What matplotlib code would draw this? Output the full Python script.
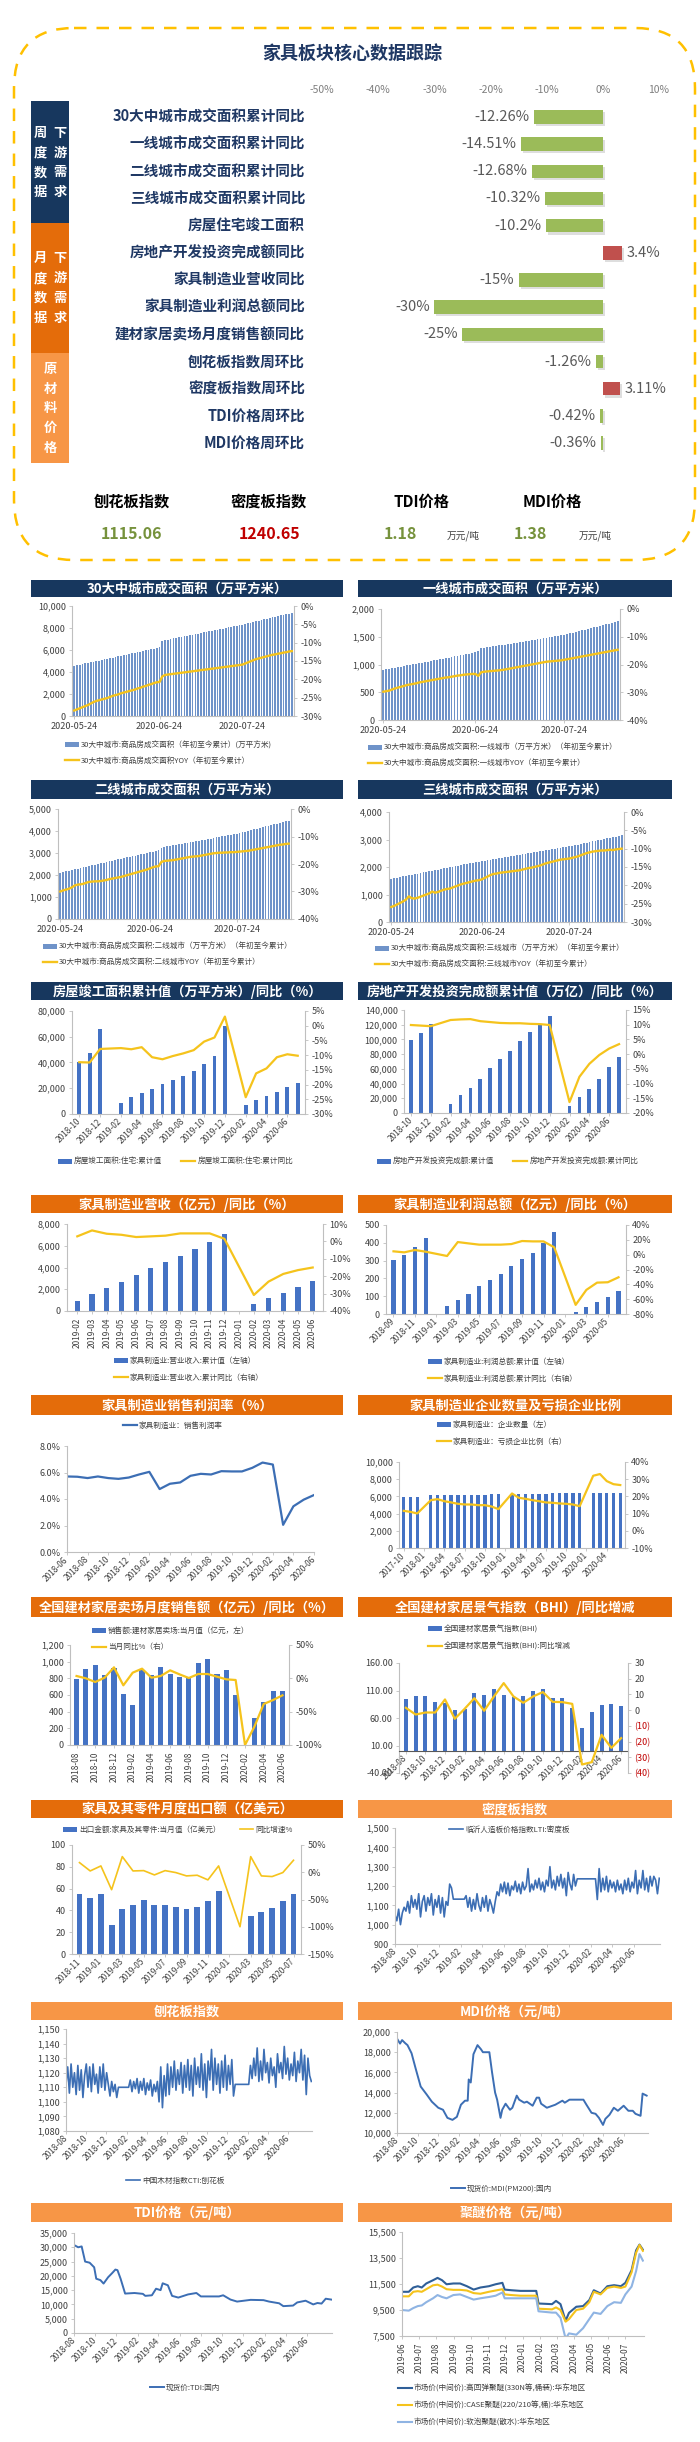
import matplotlib

matplotlib.use("Agg")
import matplotlib.pyplot as plt
from matplotlib.patches import Rectangle, FancyBboxPatch
from matplotlib.ticker import FuncFormatter
import numpy as np
import pandas as pd

plt.rcParams["font.family"] = ["Noto Sans CJK SC", "DejaVu Sans"]
plt.rcParams["axes.unicode_minus"] = False

nan = np.nan

# ---------------- 核心数据跟踪 ----------------
core_items = ["30大中城市成交面积累计同比", "一线城市成交面积累计同比", "二线城市成交面积累计同比",
              "三线城市成交面积累计同比", "房屋住宅竣工面积", "房地产开发投资完成额同比",
              "家具制造业营收同比", "家具制造业利润总额同比", "建材家居卖场月度销售额同比",
              "刨花板指数周环比", "密度板指数周环比", "TDI价格周环比", "MDI价格周环比"]
core_values = [-12.26, -14.51, -12.68, -10.32, -10.2, 3.4, -15, -30, -25, -1.26, 3.11, -0.42, -0.36]
core_ticks = [-50, -40, -30, -20, -10, 0, 10]
summary_names = ["刨花板指数", "密度板指数", "TDI价格", "MDI价格"]
summary_values = ["1115.06", "1240.65", "1.18", "1.38"]

# ---------------- 30城成交（日度累计） ----------------
day_start = "2020-05-24"
day_ticks = ["2020-05-24", "2020-06-24", "2020-07-24"]
city30_area = [4550, 4600, 4660, 4720, 4780, 4830, 4880, 4930, 4990, 5040, 5100, 5150, 5210, 5260, 5310, 5360,
               5420, 5470, 5520, 5580, 5630, 5690, 5740, 5800, 5850, 5900, 5960, 6010, 6070, 6130, 6190, 6250,
               6850, 6900, 6950, 7000, 7050, 7100, 7150, 7200, 7250, 7300, 7350, 7400, 7450, 7500, 7550, 7600,
               7650, 7700, 7750, 7800, 7850, 7900, 7950, 8000, 8050, 8100, 8150, 8200, 8250, 8300,
               8360, 8420, 8480, 8540, 8600, 8660, 8720, 8780, 8840, 8900, 8960, 9020, 9080, 9140, 9200, 9260,
               9310, 9360]
city30_yoy = [-28.5, -28.2, -27.9, -27.6, -27.3, -27.0, -26.6, -26.2, -25.9, -25.7, -25.5, -25.3, -25.1, -24.8,
              -24.5, -24.3, -24.1, -23.8, -23.6, -23.4, -23.2, -23.0, -22.8, -22.5, -22.3, -22.0, -21.8, -21.5,
              -21.3, -21.0, -20.8, -20.7, -19.2,
              -18.8, -18.7, -18.6, -18.5, -18.4, -18.3, -18.2, -18.1, -18.0, -17.9, -17.8, -17.7, -17.6, -17.5,
              -17.4, -17.3, -17.2, -17.1, -17.0, -16.9, -16.8, -16.7, -16.6, -16.5, -16.4, -16.3, -16.2, -16.1,
              -16.0, -15.7, -15.4, -15.1, -14.8, -14.5, -14.3, -14.1, -13.9, -13.7, -13.5, -13.3, -13.2, -13.0,
              -12.9, -12.7, -12.6, -12.4, -12.3]
city1_area = [900, 910, 920, 930, 941, 951, 961, 971, 982, 992, 1002, 1012, 1023, 1033, 1043, 1053, 1064, 1074,
              1084, 1094, 1105, 1115, 1125, 1135, 1146, 1156, 1166, 1176, 1187, 1197, 1207, 1217, 1240,
              1290, 1299, 1308, 1316, 1325, 1334, 1343, 1352, 1360, 1369, 1378, 1387, 1396, 1404, 1413, 1422,
              1431, 1440, 1448, 1457, 1466, 1475, 1484, 1492, 1501, 1510, 1519, 1528, 1536,
              1549, 1563, 1576, 1590, 1603, 1617, 1630, 1643, 1657, 1670, 1684, 1697, 1710, 1724, 1737, 1750,
              1764, 1777]
city1_yoy = [-29.8, -29.6, -29.4, -29.0, -28.6, -28.3, -28.0, -27.7, -27.4, -27.2, -27.0, -26.8, -26.5, -26.3,
             -26.1, -25.9, -25.7, -25.5, -25.3, -25.1, -24.9, -24.7, -24.6, -24.4, -24.2, -24.0, -23.9, -23.7,
             -23.6, -23.5, -23.4, -23.4, -24.1,
             -22.8, -22.6, -22.5, -22.4, -22.3, -22.2, -22.1, -22.0, -21.8, -21.6, -21.4, -21.2, -21.0, -20.8,
             -20.6, -20.4, -20.2, -20.0, -19.8, -19.6, -19.4, -19.2, -19.0, -18.9, -18.8, -18.7, -18.6, -18.5,
             -18.3, -18.1, -17.9, -17.7, -17.5, -17.3, -17.1, -16.9, -16.7, -16.5, -16.3, -16.1, -15.9, -15.7,
             -15.5, -15.3, -15.1, -14.9, -14.7]
city2_area = [2106, 2136, 2166, 2196, 2226, 2256, 2286, 2316, 2346, 2376, 2406, 2436, 2466, 2496, 2526, 2556,
              2586, 2616, 2646, 2676, 2706, 2736, 2766, 2796, 2826, 2856, 2886, 2916, 2946, 2976, 3006, 3036,
              3066, 3096, 3126,
              3250, 3274, 3298, 3322, 3346, 3370, 3394, 3418, 3442, 3466, 3490, 3514, 3538, 3562, 3586, 3610,
              3634, 3658, 3682, 3706, 3730, 3754, 3778, 3802, 3826, 3850, 3878,
              3910, 3943, 3976, 4009, 4042, 4075, 4108, 4141, 4174, 4207, 4240, 4273, 4306, 4339, 4372, 4405,
              4438, 4470]
city2_yoy = [-30.0, -29.6, -29.3, -29.0, -28.5, -27.8, -27.5, -27.4, -27.2, -26.8, -26.5, -26.4, -26.3, -26.3,
             -26.2, -26.0, -25.8, -25.5, -25.3, -25.1, -24.9, -24.7, -24.4, -24.1, -23.8, -23.5, -23.2, -22.9,
             -22.6, -22.3, -22.0, -21.6, -21.2, -20.9, -20.8,
             -19.2, -18.9, -18.8, -18.7, -18.6, -18.4, -18.2, -18.0, -17.8, -17.6, -17.4, -17.3, -17.2, -17.1,
             -16.9, -16.7, -16.5, -16.3, -16.1, -16.0, -15.9, -15.9, -15.8, -15.8, -15.7, -15.7, -15.6,
             -15.5, -15.4, -15.3, -15.2, -15.0, -14.8, -14.6, -14.4, -14.2, -14.0, -13.8, -13.6, -13.4, -13.2,
             -13.0, -12.9, -12.7, -12.6]
city3_area = [1576, 1596, 1617, 1638, 1658, 1679, 1700, 1720, 1741, 1762, 1782, 1803, 1824, 1844, 1865, 1886,
              1906, 1927, 1948, 1968, 1989, 2010, 2030, 2051, 2072, 2092, 2113, 2134, 2155, 2176, 2197, 2218,
              2236, 2254, 2272, 2290, 2308, 2326, 2344, 2362, 2380, 2398, 2416, 2434, 2452, 2470, 2488, 2506,
              2524, 2542, 2560, 2578, 2596, 2614, 2632, 2650, 2668, 2686, 2704, 2722, 2740, 2752,
              2774, 2796, 2818, 2840, 2862, 2884, 2906, 2928, 2950, 2972, 2994, 3016, 3038, 3060, 3082, 3104,
              3128, 3152]
city3_yoy = [-25.9, -25.6, -25.2, -24.8, -24.4, -23.9, -23.0, -23.5, -23.6, -23.4, -23.1, -22.8, -22.5, -22.2,
             -21.7, -22.0, -21.8, -21.5, -21.2, -21.0, -20.9, -20.6, -20.3, -20.0, -19.7, -19.5, -19.3, -19.1,
             -18.9, -18.7, -18.6, -18.4, -18.0, -17.6, -17.2, -16.9, -16.8, -16.6, -16.5, -16.4, -16.3, -16.2,
             -16.1, -16.0, -15.9, -15.7, -15.5, -15.3, -15.2, -15.0, -14.8, -14.6, -14.3, -14.0, -13.8, -13.6,
             -13.4, -13.2, -13.0, -12.9, -12.8, -12.7, -12.5, -12.3, -12.1, -11.8, -11.5, -11.2, -11.0, -10.8,
             -10.7, -10.6, -10.5, -10.5, -10.4, -10.3, -10.4, -10.2, -10.1, -10.0]

# ---------------- 月度数据 ----------------
comp_months = pd.period_range("2018-10", "2020-07", freq="M").strftime("%Y-%m").tolist()
comp_area = [40600, 47300, 66000, nan, 8800, 13200, 16000, 19100, 23000, 26400, 29500, 33400, 38600, 45300,
             68400, nan, 6700, 11100, 14000, 16800, 20700, 23800]
comp_yoy = [-12.4, -12.5, -7.9, nan, -7.6, -8.0, -7.3, -10.7, -11.4, -10.3, -9.4, -8.3, -5.4, -4.0, 3.1, nan,
            -24.3, -16.2, -14.5, -10.7, -9.7, -10.2]
inv_val = [99300, 109000, 120300, nan, 12800, 23800, 34200, 46100, 61600, 73100, 84600, 98000, 109600, 121300,
           132200, nan, 10100, 21960, 33100, 45900, 62700, 75900]
inv_yoy = [9.9, 9.7, 9.5, nan, 11.6, 11.8, 11.9, 11.2, 10.9, 10.6, 10.5, 10.5, 10.3, 10.2, 9.9, nan,
           -16.3, -7.7, -3.3, -0.3, 1.9, 3.4]

rev_months = pd.period_range("2019-02", "2020-06", freq="M").strftime("%Y-%m").tolist()
rev_val = [950, 1570, 2090, 2680, 3290, 3910, 4460, 5080, 5690, 6340, 7110, nan, 620, 1170, 1660, 2180, 2770]
rev_yoy = [2.9, 6.3, 4.4, 3.8, 2.5, 2.9, 3.3, 4.6, 4.6, 4.6, 1.5, nan, -30.8, -23.1, -18.7, -16.5, -15.0]

prof_months = pd.period_range("2018-09", "2020-06", freq="M").strftime("%Y-%m").tolist()
prof_val = [304, 332, 375, 425, nan, 47, 80, 112, 158, 192, 226, 270, 308, 343, 401, 463, nan, 11, 39, 65, 95, 132]
prof_yoy = [4.5, 3.1, 6.3, 4.0, nan, -1.8, 17.0, 15.2, 13.5, 13.5, 13.5, 14.3, 18.4, 17.9, 17.9, 9.9, nan,
            -67.7, -47.5, -37.7, -37.2, -30.5]

margin_months = pd.period_range("2018-06", "2020-06", freq="M").strftime("%Y-%m").tolist()
margin = [5.7, 5.68, 5.58, 5.7, 5.58, 5.52, 5.62, 5.85, 6.05, 4.75, 5.15, 5.25, 5.75, 5.9, 5.85, 6.1, 6.08,
          6.08, 6.35, 6.75, 6.6, 2.05, 3.45, 3.95, 4.3]

ent_months = pd.period_range("2017-10", "2020-06", freq="M").strftime("%Y-%m").tolist()
ent_count = [5950, 5950, 5980, nan, 6150, 6150, 6150, 6150, 6180, 6200, 6200, 6200, 6220, 6300, 6280, nan,
             6300, 6300, 6320, 6320, 6330, 6330, 6340, 6350, 6360, 6380, 6400, nan, 6400, 6400, 6400, 6420, 6420]
loss_ratio = [11.6, 11.0, 10.1, nan, 17.8, 18.4, 17.2, 16.5, 15.7, 15.3, 15.3, 14.9, 14.9, 14.1, 12.6, nan,
              21.7, 19.2, 18.6, 17.8, 17.2, 16.5, 16.3, 15.9, 15.7, 15.3, 14.3, nan, 32.0, 33.0, 28.9, 27.1, 26.6]

mall_months = pd.period_range("2018-08", "2020-06", freq="M").strftime("%Y-%m").tolist()
mall_sales = [792, 908, 964, 836, 920, 612, 480, 900, 836, 932, 852, 812, 800, 980, 1028, 848, 900, 600, nan,
              328, 520, 644, 644]
mall_yoy = [3.5, 0.0, -5.5, 1.0, 16.5, -10.5, 8.5, 14.5, 1.0, 3.5, 12.0, 6.0, 0.5, 6.5, 6.5, 2.5, -1.5, -2.5,
            -100.0, -72.5, -38.5, -32.5, -25.5]
bhi = [95, 100, 100, 90, 88, 74, 77, 105, 102, 113, 101, 99, 100, 110, 113, 97, 97, 78, 42, 71, 84, 86, 82]
bhi_yoy = [1.5, -2.8, -1.5, -1.5, 6.8, -5.5, 0.8, 7.6, -0.4, 8.7, 17.2, 8.7, 4.7, 8.7, 11.5, 5.3, 5.1, 4.0,
           -34.6, -33.1, -15.7, -24.0, -17.8]

exp_months = pd.period_range("2018-11", "2020-07", freq="M").strftime("%Y-%m").tolist()
exp_val = [55.2, 51.8, 55.0, 26.8, 41.5, 45.1, 49.4, 45.4, 44.8, 43.0, 41.2, 43.0, 48.2, 58.2, nan, nan,
           34.8, 38.7, 42.1, 48.8, 55.2]
exp_yoy = [17.7, 2.4, 11.6, -32.0, 28.7, 2.4, 3.0, -4.9, 3.0, -0.6, -6.7, -5.5, -14.0, 11.6, nan, -100.0,
           28.7, -6.7, -7.9, -0.6, 22.0]

# ---------------- 原材料价格 ----------------
lti_mdf = [1050, 1020, 1080, 1000, 1060, 1090, 1070,
           1120, 1060, 1150, 1090, 1130, 1080, 1160, 1040, 1120, 1150, 1070, 1140,
           1100, 1160, 1050, 1130, 1090, 1150, 1060, 1140, 1040, 1120, 1100, 1210,
           1190, 1132, 1132, 1132, 1132, 1132, 1132, 1132, 1150, 1090, 1140, 1070,
           1130, 1080, 1160, 1100, 1070, 1140, 1090, 1150, 1070, 1130, 1100, 1060,
           1120, 1170, 1150, 1210, 1170, 1220, 1160, 1215, 1150, 1200, 1180, 1225,
           1170, 1210, 1160, 1220, 1180, 1200, 1290, 1170, 1210, 1180, 1230, 1190,
           1240, 1180, 1220, 1170, 1230, 1200, 1300, 1190, 1230, 1180, 1250, 1200,
           1260, 1190, 1240, 1150, 1270, 1210, 1180, 1260, 1200, 1237, 1237, 1237,
           1237, 1237, 1237, 1237, 1237, 1237, 1237, 1237, 1130, 1290, 1170, 1240,
           1180, 1250, 1170, 1230, 1190, 1220, 1170, 1230, 1180, 1210, 1160, 1230,
           1180, 1240, 1170, 1220, 1190, 1280, 1160, 1230, 1190, 1280, 1180, 1240,
           1170, 1250, 1200, 1250, 1230, 1160, 1240]
cti_pb = [1112, 1124, 1106, 1126, 1110, 1120, 1105,
          1125, 1108, 1122, 1103, 1118, 1126, 1110, 1124, 1107, 1126, 1112, 1119,
          1106, 1124, 1110, 1126, 1108, 1120, 1112, 1104, 1114, 1107, 1112, 1103,
          1110, 1110, 1110, 1110, 1110, 1110, 1110, 1115, 1107, 1114, 1109, 1116,
          1106, 1114, 1108, 1116, 1105, 1113, 1108, 1115, 1104, 1112, 1107, 1114,
          1100, 1124, 1096, 1118, 1104, 1126, 1105, 1124, 1110, 1128, 1108, 1122,
          1112, 1127, 1106, 1125, 1110, 1129, 1108, 1125, 1104, 1130, 1112, 1124,
          1110, 1133, 1108, 1126, 1103, 1128, 1115, 1136, 1108, 1130, 1112, 1126,
          1106, 1128, 1110, 1132, 1108, 1125, 1112, 1129, 1104, 1112, 1112, 1112,
          1112, 1112, 1112, 1112, 1112, 1112, 1125, 1116, 1130, 1118, 1137, 1114,
          1128, 1115, 1136, 1120, 1127, 1113, 1130, 1118, 1124, 1110, 1133, 1120,
          1127, 1116, 1138, 1119, 1130, 1115, 1126, 1118, 1134, 1114, 1128, 1120,
          1136, 1115, 1132, 1105, 1130, 1118, 1114]

mdi_dates = ["2018-08-01", "2018-08-10", "2018-08-16", "2018-08-25", "2018-09-01", "2018-09-13", "2018-09-25",
             "2018-10-10", "2018-10-28", "2018-11-12", "2018-12-01", "2018-12-15", "2018-12-28", "2019-01-12",
             "2019-01-25", "2019-02-06", "2019-02-18", "2019-02-26", "2019-03-01", "2019-03-07", "2019-03-15",
             "2019-03-27", "2019-04-06", "2019-04-12", "2019-05-01", "2019-05-09", "2019-05-18", "2019-05-24",
             "2019-06-03", "2019-06-08", "2019-06-18", "2019-07-01", "2019-07-08", "2019-07-21", "2019-07-28",
             "2019-08-12", "2019-08-20", "2019-09-06", "2019-09-18", "2019-09-25", "2019-10-01", "2019-10-18",
             "2019-11-12", "2019-12-03", "2019-12-10", "2019-12-24", "2020-02-03", "2020-02-12", "2020-02-27",
             "2020-03-10", "2020-03-20", "2020-04-01", "2020-04-08", "2020-04-20", "2020-05-03", "2020-05-15",
             "2020-06-01", "2020-06-15", "2020-06-28", "2020-07-06", "2020-07-21", "2020-07-27", "2020-08-08"]
mdi_price = [19350, 18850, 19200, 18900, 18700, 17900, 16400, 14600, 13800, 13100, 12500, 12300, 11500, 11300,
             11600, 12800, 13200, 13200, 15300, 15000, 17800, 18700, 18300, 18000, 18000, 16000, 14000, 13300,
             11500, 12300, 12900, 12300, 12500, 13700, 13300, 13000, 13100, 12700, 13500, 13500, 12900, 12500,
             12800, 13200, 13000, 13300, 13300, 12800, 12000, 11900, 11500, 10800, 11400, 11800, 12500, 12200,
             12700, 12200, 12200, 11900, 11700, 13900, 13700]

tdi_dates = ["2018-08-01", "2018-08-13", "2018-08-23", "2018-09-02", "2018-09-15", "2018-09-28", "2018-10-04",
             "2018-10-16", "2018-10-25", "2018-11-07", "2018-11-19", "2018-11-28", "2018-12-04", "2018-12-13",
             "2018-12-26", "2019-01-22", "2019-02-15", "2019-02-22", "2019-03-13", "2019-03-25", "2019-04-07",
             "2019-04-13", "2019-04-28", "2019-05-10", "2019-05-28", "2019-06-25", "2019-07-19", "2019-08-01",
             "2019-09-22", "2019-10-04", "2019-10-25", "2019-11-13", "2019-12-22", "2020-01-28", "2020-02-13",
             "2020-03-13", "2020-03-25", "2020-04-22", "2020-05-04", "2020-05-28", "2020-06-19", "2020-07-01",
             "2020-07-13", "2020-07-25", "2020-08-10"]
tdi_price = [30800, 30000, 30300, 25000, 24600, 23000, 19000, 18500, 17300, 19500, 21000, 22200, 22000, 19000,
             13800, 14000, 13700, 13000, 13200, 15500, 15000, 17400, 16700, 13000, 12400, 13500, 14000, 12800,
             12800, 13200, 11700, 11000, 11600, 11500, 11000, 10400, 9400, 9600, 10700, 11300, 10000, 10500,
             10300, 12000, 11700]

pe_dates = ["2019-06-01", "2019-06-13", "2019-06-21", "2019-06-29", "2019-07-06", "2019-07-14", "2019-07-26",
            "2019-08-03", "2019-08-11", "2019-08-19", "2019-08-31", "2019-09-12", "2019-09-24", "2019-10-06",
            "2019-10-18", "2019-11-02", "2019-11-14", "2019-11-26", "2019-11-30", "2019-12-12", "2019-12-28",
            "2020-01-25", "2020-01-29", "2020-02-22", "2020-02-29", "2020-03-08", "2020-03-17", "2020-03-23",
            "2020-04-05", "2020-04-17", "2020-04-28", "2020-05-06", "2020-05-18", "2020-05-30", "2020-06-11",
            "2020-06-23", "2020-07-01", "2020-07-12", "2020-07-20", "2020-07-26", "2020-08-01"]
pe_330n = [10900, 10900, 11230, 11330, 11230, 11540, 11790, 11970, 11790, 11480, 11540, 11540, 11330, 11070,
           11230, 11330, 11480, 11590, 11070, 11020, 10970, 10970, 10000, 9950, 10200, 9950, 8670, 9280, 9750,
           9800, 10260, 11020, 10770, 11330, 11410, 11330, 11590, 12560, 14090, 14530, 14140]
pe_case = [10550, 10550, 10900, 10950, 10900, 11100, 11400, 11450, 11300, 11100, 11050, 11050, 11000, 10800,
           10750, 10900, 11000, 11100, 10700, 10650, 10600, 10600, 9600, 9550, 9700, 9500, 8600, 8800, 9500,
           9600, 10100, 10900, 10700, 11200, 11300, 11200, 11300, 12400, 13900, 14500, 14050]
pe_soft = [9500, 9450, 9650, 9800, 9850, 10100, 10400, 10650, 10500, 10400, 10650, 10700, 10500, 10300, 10400,
           10500, 10600, 10850, 10400, 10400, 10400, 10400, 9400, 9300, 9300, 8900, 7300, 7700, 7600, 8100, 8800,
           9300, 9200, 9800, 10100, 10050, 10700, 11300, 12500, 13800, 13300]

# ---------------- 样式 ----------------
W, H = 700, 2442
NAVY = "#17375E"
NAVY_T = "#1F3864"
OR_D = "#E46C0A"
OR_L = "#F79646"
GREEN = "#9BBB59"
RED = "#C0504D"
BLUE = "#4472C4"
BAR_L = "#6F93C9"
YEL = "#F5C31C"
LINE_B = "#3C6EB4"
AX_C = "#BFBFBF"
TXT_C = "#404040"

fmt_k = FuncFormatter(lambda v, p: f"{v:,.0f}")
fmt_p = FuncFormatter(lambda v, p: f"{v:.0f}%")

fig = plt.figure(figsize=(W / 100, H / 100), dpi=100)
fig.patch.set_facecolor("white")


def rect(x0, y0, x1, y1):
    return [x0 / W, 1 - y1 / H, (x1 - x0) / W, (y1 - y0) / H]


bg = fig.add_axes([0, 0, 1, 1])
bg.set_xlim(0, W)
bg.set_ylim(H, 0)
bg.axis("off")


def style_l(ax):
    ax.set_facecolor("none")
    for s in ("top", "right"):
        ax.spines[s].set_visible(False)
    for s in ("left", "bottom"):
        ax.spines[s].set_color(AX_C)
        ax.spines[s].set_linewidth(0.8)
    ax.tick_params(labelsize=6.5, labelcolor=TXT_C, color=AX_C, length=2.5, width=0.6, pad=2)


def style_r(ax):
    ax.set_facecolor("none")
    for s in ("top", "left", "bottom"):
        ax.spines[s].set_visible(False)
    ax.spines["right"].set_color(AX_C)
    ax.spines["right"].set_linewidth(0.8)
    ax.tick_params(labelsize=6.5, labelcolor=TXT_C, color=AX_C, length=2.5, width=0.6, pad=2)


def rotate(ax, rot):
    for t in ax.get_xticklabels():
        t.set_rotation(rot)
        t.set_fontsize(6)
        if rot == 45:
            t.set_ha("right")
            t.set_va("center")
            t.set_rotation_mode("anchor")


def header(x0, x1, y0, y1, title, color):
    bg.add_patch(Rectangle((x0, y0), x1 - x0, y1 - y0, color=color, lw=0))
    bg.text((x0 + x1) / 2, (y0 + y1) / 2 + 0.5, title, color="white", fontsize=9.5, fontweight="bold",
            ha="center", va="center")


def legend(handles, labels, x, y, ncol=1, spacing=0.95):
    fig.legend(handles, labels, loc="upper left", bbox_to_anchor=(x / W, 1 - y / H), ncol=ncol,
               frameon=False, fontsize=5.5, handlelength=1.8, handleheight=0.7, handletextpad=0.3,
               labelspacing=spacing, columnspacing=2.5, borderpad=0, borderaxespad=0, labelcolor=TXT_C)


# ---------------- 顶部：核心数据跟踪 ----------------
bg.add_patch(FancyBboxPatch((14, 28), 681, 532, boxstyle="round,pad=0,rounding_size=60",
                            fc="none", ec="#FFC000", lw=1.8, ls=(0, (5, 4))))
bg.text(352, 53, "家具板块核心数据跟踪", ha="center", va="center", fontsize=13, fontweight="bold", color=NAVY_T)

for (y0, y1, c) in [(101, 223, NAVY), (223, 353, OR_D), (353, 463, OR_L)]:
    bg.add_patch(Rectangle((31, y0), 38, y1 - y0, color=c, lw=0))
for k, (a, b) in enumerate(zip("周度数据", "下游需求")):
    bg.text(40, 133 + 19.7 * k, a, color="white", fontsize=9.5, fontweight="bold", ha="center", va="center")
    bg.text(60, 133 + 19.7 * k, b, color="white", fontsize=9.5, fontweight="bold", ha="center", va="center")
for k, (a, b) in enumerate(zip("月度数据", "下游需求")):
    bg.text(40, 258 + 20 * k, a, color="white", fontsize=9.5, fontweight="bold", ha="center", va="center")
    bg.text(60, 258 + 20 * k, b, color="white", fontsize=9.5, fontweight="bold", ha="center", va="center")
for k, a in enumerate("原材料价格"):
    bg.text(50, 369 + 19.7 * k, a, color="white", fontsize=9.5, fontweight="bold", ha="center", va="center")

axc = fig.add_axes(rect(322, 103.4, 659, 456.6))
axc.set_facecolor("none")
yy = np.arange(len(core_values))
vals = np.array(core_values)
axc.barh(yy + 0.08, vals, left=0.35, height=0.5, color="#7F7F7F", alpha=0.25, lw=0)
axc.barh(yy, vals, height=0.5, color=[GREEN if v < 0 else RED for v in vals], lw=0)
axc.set_xlim(core_ticks[0], core_ticks[-1])
axc.set_ylim(len(vals) - 0.5, -0.5)
axc.xaxis.tick_top()
axc.set_xticks(core_ticks)
axc.set_xticklabels([f"{t}%" for t in core_ticks])
axc.tick_params(axis="x", length=0, labelsize=7.5, labelcolor="#7F7F7F", pad=6)
axc.set_yticks([])
for s in axc.spines.values():
    s.set_visible(False)
for i, v in enumerate(vals):
    if v < 0:
        axc.text(v - 0.8, i, f"{v:g}%", ha="right", va="center", fontsize=10.5, color="#595959")
    else:
        axc.text(v + 0.8, i, f"{v:g}%", ha="left", va="center", fontsize=10.5, color="#595959")
    axc.text(-53, i, core_items[i], ha="right", va="center", fontsize=10.5, fontweight="bold",
             color=NAVY_T, clip_on=False)

for xc, name in zip([132, 269, 422, 552], summary_names):
    bg.text(xc, 502, name, ha="center", va="center", fontsize=11, fontweight="bold", color="black")
for xc, val, c in zip([132, 270, 400, 530], summary_values, ["#76923C", "#C00000", "#76923C", "#76923C"]):
    bg.text(xc, 534, val, ha="center", va="center", fontsize=11.5, fontweight="bold", color=c)
for xc in (463, 595):
    bg.text(xc, 536, "万元/吨", ha="center", va="center", fontsize=7, color=TXT_C)

# ---------------- 面板标题 ----------------
LX0, LX1, RX0, RX1 = 31, 343, 358, 672
headers = [
    (580, 597, "30大中城市成交面积（万平方米）", NAVY, "一线城市成交面积（万平方米）", NAVY),
    (780, 799, "二线城市成交面积（万平方米）", NAVY, "三线城市成交面积（万平方米）", NAVY),
    (982, 1000, "房屋竣工面积累计值（万平方米）/同比（%）", NAVY, "房地产开发投资完成额累计值（万亿）/同比（%）", NAVY),
    (1195, 1213, "家具制造业营收（亿元）/同比（%）", OR_D, "家具制造业利润总额（亿元）/同比（%）", OR_D),
    (1395, 1415, "家具制造业销售利润率（%）", OR_D, "家具制造业企业数量及亏损企业比例", OR_D),
    (1597, 1617, "全国建材家居卖场月度销售额（亿元）/同比（%）", OR_D, "全国建材家居景气指数（BHI）/同比增减", OR_D),
    (1800, 1818, "家具及其零件月度出口额（亿美元）", OR_D, "密度板指数", OR_L),
    (2002, 2020, "刨花板指数", OR_L, "MDI价格（元/吨）", OR_L),
    (2203, 2222, "TDI价格（元/吨）", OR_L, "聚醚价格（元/吨）", OR_L),
]
for y0, y1, lt, lc, rt, rc in headers:
    header(LX0, LX1, y0, y1, lt, lc)
    header(RX0, RX1, y0, y1, rt, rc)


# ---------------- 城市成交面板 ----------------
def city_panel(box, area, yoy, lmax, lstep, rlo, rstep, labels, lx, ly):
    ax = fig.add_axes(rect(*box))
    n = len(area)
    x = np.arange(n)
    days = pd.date_range(day_start, periods=n).strftime("%Y-%m-%d").tolist()
    b = ax.bar(x, area, width=0.62, color=BAR_L, lw=0, zorder=2)
    ax.set_xlim(-0.8, n - 0.2)
    ax.set_ylim(0, lmax)
    ax.set_yticks(np.arange(0, lmax + 1, lstep))
    ax.yaxis.set_major_formatter(fmt_k)
    ax.set_xticks([days.index(d) for d in day_ticks])
    ax.set_xticklabels(day_ticks)
    style_l(ax)
    ax2 = ax.twinx()
    ln, = ax2.plot(x, yoy, color=YEL, lw=1.7)
    ax2.set_ylim(rlo, 0)
    ax2.set_yticks(np.arange(rlo, 1, rstep))
    ax2.yaxis.set_major_formatter(fmt_p)
    style_r(ax2)
    legend([b, ln], labels, lx, ly)


city_panel((72, 606, 294, 716), city30_area, city30_yoy, 10000, 2000, -30, 5,
           ["30大中城市:商品房成交面积（年初至今累计）(万平方米)", "30大中城市:商品房成交面积YOY（年初至今累计）"], 65, 741)
city_panel((381, 609, 620, 720), city1_area, city1_yoy, 2000, 500, -40, 10,
           ["30大中城市:商品房成交面积:一线城市（万平方米）（年初至今累计）", "30大中城市:商品房成交面积:一线城市YOY（年初至今累计）"],
           368, 744)
city_panel((58, 809, 291, 919), city2_area, city2_yoy, 5000, 1000, -40, 10,
           ["30大中城市:商品房成交面积:二线城市（万平方米）（年初至今累计）", "30大中城市:商品房成交面积:二线城市YOY（年初至今累计）"],
           43, 943)
city_panel((389, 812, 624, 922), city3_area, city3_yoy, 4000, 1000, -30, 5,
           ["30大中城市:商品房成交面积:三线城市（万平方米）（年初至今累计）", "30大中城市:商品房成交面积:三线城市YOY（年初至今累计）"],
           375, 945)


# ---------------- 月度柱线面板 ----------------
def month_panel(box, months, bars, line, llim, lstep, lfmt, rlim, rstep, rfmt, step, rot, bw=0.4, start=0):
    ax = fig.add_axes(rect(*box))
    n = len(months)
    x = np.arange(n)
    b = ax.bar(x, np.array(bars, float), width=bw, color=BLUE, lw=0, zorder=2)
    ax.set_xlim(-0.7, n - 0.3)
    ax.set_ylim(*llim)
    ax.set_yticks(np.arange(llim[0], llim[1] + lstep / 2, lstep))
    ax.yaxis.set_major_formatter(lfmt)
    ax.set_xticks(x[start::step])
    ax.set_xticklabels(months[start::step])
    style_l(ax)
    rotate(ax, rot)
    ax2 = ax.twinx()
    yv = np.array(line, float)
    ok = ~np.isnan(yv)
    ln, = ax2.plot(x[ok], yv[ok], color=YEL, lw=1.6)
    ax2.set_ylim(*rlim)
    ax2.set_yticks(np.arange(rlim[0], rlim[1] + rstep / 2, rstep))
    if rfmt is not None:
        ax2.yaxis.set_major_formatter(rfmt)
    style_r(ax2)
    return ax, ax2, b, ln


ax, ax2, b, ln = month_panel((72, 1011, 305, 1114), comp_months, comp_area, comp_yoy, (0, 80000), 20000, fmt_k,
                             (-30, 5), 5, fmt_p, 2, 45, bw=0.38)
legend([b, ln], ["房屋竣工面积:住宅:累计值", "房屋竣工面积:住宅:累计同比"], 58, 1158, ncol=2)

ax, ax2, b, ln = month_panel((404, 1010, 626, 1113), comp_months, inv_val, inv_yoy, (0, 140000), 20000, fmt_k,
                             (-20, 15), 5, fmt_p, 2, 45, bw=0.38)
legend([b, ln], ["房地产开发投资完成额:累计值", "房地产开发投资完成额:累计同比"], 377, 1158, ncol=2)

ax, ax2, b, ln = month_panel((67, 1224, 323, 1311), rev_months, rev_val, rev_yoy, (0, 8000), 2000, fmt_k,
                             (-40, 10), 10, fmt_p, 1, 90, bw=0.35)
legend([b, ln], ["家具制造业:营业收入:累计值（左轴）", "家具制造业:营业收入:累计同比（右轴）"], 114, 1357, spacing=1.1)

ax, ax2, b, ln = month_panel((386, 1225, 626, 1314), prof_months, prof_val, prof_yoy, (0, 500), 100, fmt_k,
                             (-80, 40), 20, fmt_p, 2, 45, bw=0.38)
legend([b, ln], ["家具制造业:利润总额:累计值（左轴）", "家具制造业:利润总额:累计同比（右轴）"], 428, 1358, spacing=1.1)

# 销售利润率
axm = fig.add_axes(rect(67, 1446, 314, 1552))
xm = np.arange(len(margin))
lm, = axm.plot(xm, margin, color=LINE_B, lw=1.6)
axm.set_xlim(0, len(margin) - 1)
axm.set_ylim(0, 8)
axm.set_yticks([0, 2, 4, 6, 8])
axm.yaxis.set_major_formatter(FuncFormatter(lambda v, p: f"{v:.1f}%"))
axm.set_xticks(xm[::2])
axm.set_xticklabels(margin_months[::2])
style_l(axm)
rotate(axm, 45)
legend([lm], ["家具制造业：销售利润率"], 123, 1422)

# 企业数量及亏损比例
ax, ax2, b, ln = month_panel((399, 1462, 625, 1548), ent_months, ent_count, loss_ratio, (0, 10000), 2000, fmt_k,
                             (-10, 40), 10, fmt_p, 3, 45, bw=0.5)
legend([b, ln], ["家具制造业：企业数量（左）", "家具制造业：亏损企业比例（右）"], 437, 1421, spacing=1.2)

# 建材家居卖场
ax, ax2, b, ln = month_panel((70, 1645, 289, 1745), mall_months, mall_sales, mall_yoy, (0, 1200), 200, fmt_k,
                             (-100, 50), 50, fmt_p, 2, 90, bw=0.55)
legend([b, ln], ["销售额:建材家居卖场:当月值（亿元，左）", "当月同比%（右）"], 92, 1627, spacing=1.1)

# BHI
ax, ax2, b, ln = month_panel((399, 1663, 628, 1773), mall_months, bhi, bhi_yoy, (-40, 160), 50,
                             FuncFormatter(lambda v, p: f"{v:.2f}"), (-40, 30), 10, None, 2, 45, bw=0.4)
ax.spines["bottom"].set_position(("data", 0))
ax.spines["bottom"].set_color("#595959")
ax.set_xticks(np.arange(len(mall_months))[::2])
ax.set_xticklabels(mall_months[::2])
ax.tick_params(axis="x", labelsize=6, labelcolor=TXT_C, color=AX_C, length=2.5, width=0.6, pad=2)
rotate(ax, 45)
bhi_ticks = np.arange(-40, 31, 10)
ax2.set_yticks(bhi_ticks)
ax2.set_yticklabels([f"({abs(t)})" if t < 0 else f"{t}" for t in bhi_ticks])
for t, v in zip(ax2.get_yticklabels(), bhi_ticks):
    if v < 0:
        t.set_color("#C00000")
legend([b, ln], ["全国建材家居景气指数(BHI)", "全国建材家居景气指数(BHI):同比增减"], 428, 1625, spacing=1.2)

# 出口
ax, ax2, b, ln = month_panel((72, 1845, 301, 1954), exp_months, exp_val, exp_yoy, (0, 100), 20, fmt_k,
                             (-150, 50), 50, fmt_p, 2, 45, bw=0.55)
ln.set_linewidth(1.2)
legend([b, ln], ["出口金额:家具及其零件:当月值（亿美元）", "同比增速%"], 63, 1826, ncol=2)


# ---------------- 价格指数面板 ----------------
def price_panel(box, dates, values, ylim, ystep, start, end, tick_start, tick_end, freq, rot, color=LINE_B, lw=1.2):
    ax = fig.add_axes(rect(*box))
    ln, = ax.plot(pd.to_datetime(dates), values, color=color, lw=lw)
    ax.set_xlim(pd.Timestamp(start), pd.Timestamp(end))
    ax.set_ylim(*ylim)
    ax.set_yticks(np.arange(ylim[0], ylim[1] + ystep / 2, ystep))
    ax.yaxis.set_major_formatter(fmt_k)
    ticks = pd.date_range(tick_start, tick_end, freq=freq)
    ax.set_xticks(ticks)
    ax.set_xticklabels(ticks.strftime("%Y-%m"))
    style_l(ax)
    rotate(ax, rot)
    return ax, ln


mdf_dates = pd.date_range("2018-08-01", "2020-08-10", periods=len(lti_mdf))
ax, ln = price_panel((395, 1828, 660, 1944), mdf_dates, lti_mdf, (900, 1500), 100, "2018-08-01", "2020-08-12",
                     "2018-08-01", "2020-06-01", "2MS", 45)
legend([ln], ["临沂人造板价格指数LTI:密度板"], 449, 1826)

pb_dates = pd.date_range("2018-08-01", "2020-08-10", periods=len(cti_pb))
ax, ln = price_panel((66, 2029, 312, 2131), pb_dates, cti_pb, (1080, 1150), 10, "2018-08-01", "2020-08-12",
                     "2018-08-01", "2020-06-01", "2MS", 45)
legend([ln], ["中国木材指数CTI:刨花板"], 126, 2177)

ax, ln = price_panel((397, 2032, 648, 2133), mdi_dates, mdi_price, (10000, 20000), 2000, "2018-08-01",
                     "2020-08-12", "2018-08-01", "2020-06-01", "2MS", 45, lw=1.4)
legend([ln], ["现货价:MDI(PM200):国内"], 451, 2185)

ax, ln = price_panel((74, 2233, 332, 2333), tdi_dates, tdi_price, (0, 35000), 5000, "2018-08-01",
                     "2020-08-12", "2018-08-01", "2020-06-01", "2MS", 45, lw=1.4)
legend([ln], ["现货价:TDI:国内"], 150, 2384)

ax, l1 = price_panel((402, 2232, 644, 2336), pe_dates, pe_330n, (7500, 15500), 2000, "2019-06-01",
                     "2020-08-03", "2019-06-01", "2020-07-01", "MS", 90, color="#2F5F98", lw=1.5)
l2, = ax.plot(pd.to_datetime(pe_dates), pe_case, color=YEL, lw=1.5)
l3, = ax.plot(pd.to_datetime(pe_dates), pe_soft, color="#8FB4E3", lw=1.5)
legend([l1, l2, l3], ["市场价(中间价):高回弹聚醚(330N等,桶装):华东地区", "市场价(中间价):CASE聚醚(220/210等,桶):华东地区",
                      "市场价(中间价):软泡聚醚(散水):华东地区"], 398, 2384, spacing=1.2)

fig.savefig("out.png", dpi=100, facecolor="white")
plt.close(fig)
